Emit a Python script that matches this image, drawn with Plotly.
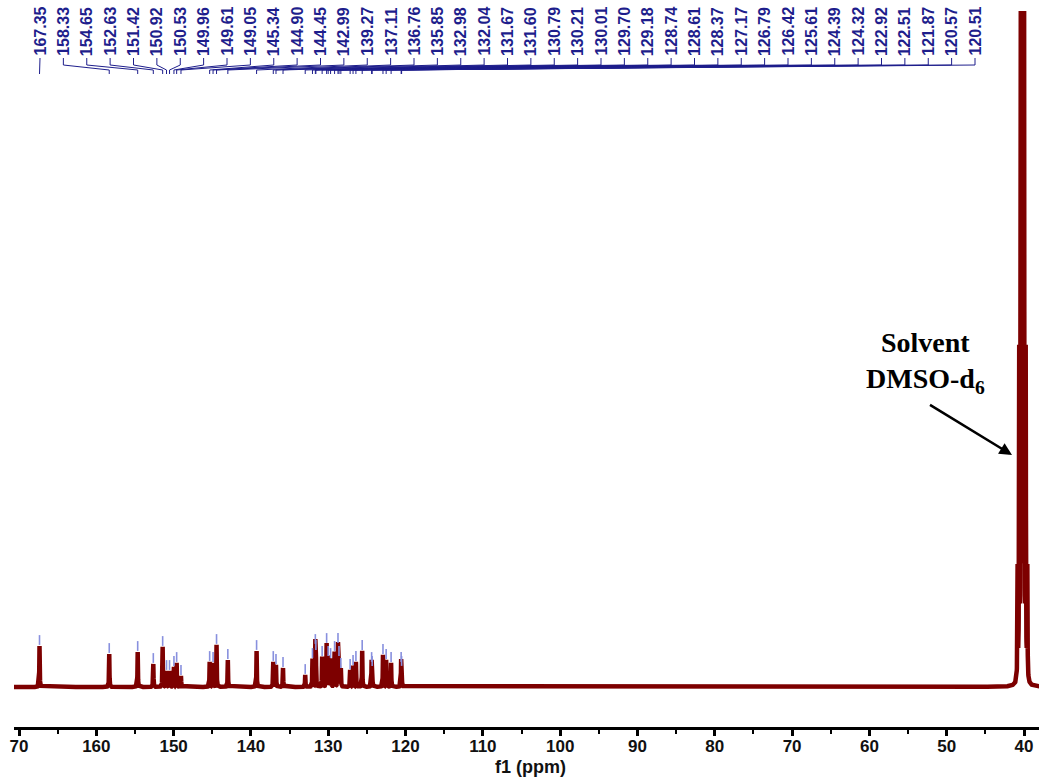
import numpy as np
import plotly.graph_objects as go

# ---------------- data ----------------
peak_ppm = [167.35, 158.33, 154.65, 152.63, 151.42, 150.92, 150.53, 149.96, 149.61, 149.05,
            145.34, 144.90, 144.45, 142.99, 139.27, 137.11, 136.76, 135.85, 132.98, 132.04,
            131.67, 131.60, 130.79, 130.21, 130.01, 129.70, 129.18, 128.74, 128.61, 128.37,
            127.17, 126.79, 126.42, 125.61, 124.39, 124.32, 122.92, 122.51, 121.87, 120.57,
            120.51]
peak_height = [41, 33, 35, 23, 40, 16, 16, 20, 24, 11,
               25, 24, 42, 27, 36, 25, 22, 19, 12, 28,
               42, 36, 30, 43, 30, 28, 35, 43, 30, 18,
               17, 21, 25, 36, 24, 20, 32, 27, 24, 24,
               20]
peak_labels = ["%.2f" % p for p in peak_ppm]

solvent_ppm = [40.83, 40.62, 40.41, 40.20, 39.99, 39.78, 39.57]
solvent_height = [110, 320, 700, 800, 700, 320, 110]

tick_vals = [170, 160, 150, 140, 130, 120, 110, 100, 90, 80, 70, 60, 50, 40]
tick_text = ["70", "160", "150", "140", "130", "120", "110", "100", "90", "80", "70", "60", "50", "40"]

# ---------------- layout constants ----------------
W, H = 1039, 780
ML, MR, MT, MB = 14, 0, 11, 53
X_RANGE = [170.65, 38.06]
Y_RANGE = [-40, 676]
SPEC_COLOR = "#7d0000"
NAVY = "#1e1e8c"
SANS = "Liberation Sans, Arial, sans-serif"

# spectrum built from peak list (narrow Lorentzian lines)
all_ppm = np.array(peak_ppm + solvent_ppm)
all_h = np.array(peak_height + solvent_height, dtype=float)
grid = np.union1d(np.arange(38.0, 170.7, 0.01), all_ppm)
hw = 0.03
spec = (all_h[None, :] / (1 + ((grid[:, None] - all_ppm[None, :]) / hw) ** 2)).sum(axis=1)

fig = go.Figure()
fig.add_trace(go.Scatter(x=grid, y=spec, mode="lines",
                         line=dict(color=SPEC_COLOR, width=4.5), hoverinfo="skip"))

# peak pick markers
fig.add_trace(go.Scatter(x=peak_ppm, y=[h + 6 for h in peak_height], mode="markers",
                         marker=dict(symbol="line-ns", size=7,
                                     line=dict(color="#8890de", width=1.6)),
                         hoverinfo="skip", cliponaxis=False))

# label positions: evenly spaced in pixel space across the top
px_per_ppm = (W - ML - MR) / (X_RANGE[0] - X_RANGE[1])
def px2ppm(px):
    return X_RANGE[0] - (px - ML) / px_per_ppm

n = len(peak_ppm)
label_x = np.linspace(px2ppm(40), px2ppm(975), n)

cx, cy = [], []
for lx, p in zip(label_x, peak_ppm):
    cx += [lx, lx, p, p, None]
    cy += [629, 622, 617, 613, None]
fig.add_trace(go.Scatter(x=cx, y=cy, mode="lines",
                         line=dict(color=NAVY, width=1), hoverinfo="skip"))

annotations = []
for lx, t in zip(label_x, peak_labels):
    annotations.append(dict(x=lx, y=629, xref="x", yref="y", text="<b>%s</b>" % t, showarrow=False,
                            textangle=-90, xanchor="center", yanchor="bottom",
                            font=dict(family=SANS, size=16, color=NAVY)))

# Solvent label and arrow
annotations.append(dict(x=px2ppm(925), y=687 - 362, xref="x", yref="y",
                        text="<b>Solvent</b><br><b>DMSO-d<sub>6</sub></b>", showarrow=False,
                        font=dict(family="Liberation Serif, Times New Roman, serif", size=28, color="black"),
                        xanchor="center", yanchor="middle"))
annotations.append(dict(x=px2ppm(1012), y=687 - 455, xref="x", yref="y", text=" ",
                        showarrow=True, ax=-85, ay=-52, axref="pixel", ayref="pixel",
                        arrowhead=2, arrowsize=1, arrowwidth=2.5, arrowcolor="black"))

# axis title
annotations.append(dict(x=(530 - ML) / (W - ML - MR), y=(727 - 767) / (H - MT - MB),
                        xref="paper", yref="paper", text="<b>f1 (ppm)</b>", showarrow=False,
                        xanchor="center", yanchor="middle",
                        font=dict(family=SANS, size=18, color="#111")))

fig.update_layout(
    width=W, height=H,
    margin=dict(l=ML, r=MR, t=MT, b=MB, pad=0),
    paper_bgcolor="white", plot_bgcolor="white",
    showlegend=False,
    annotations=annotations,
    xaxis=dict(range=X_RANGE, showgrid=False, zeroline=False, automargin=False,
               showline=True, linecolor="black", linewidth=2.5,
               ticks="outside", ticklen=6, tickwidth=2.5, tickcolor="black",
               tickmode="array", tickvals=tick_vals, ticktext=tick_text,
               ticklabelstandoff=-4,
               tickfont=dict(family=SANS, size=17, color="#111", weight="bold"),
               minor=dict(tickmode="linear", tick0=0, dtick=5, ticks="outside",
                          ticklen=4, tickwidth=2, tickcolor="black"),
               fixedrange=True),
    yaxis=dict(range=Y_RANGE, visible=False, showgrid=False, zeroline=False,
               automargin=False, fixedrange=True),
)

fig.write_html("out.html")
